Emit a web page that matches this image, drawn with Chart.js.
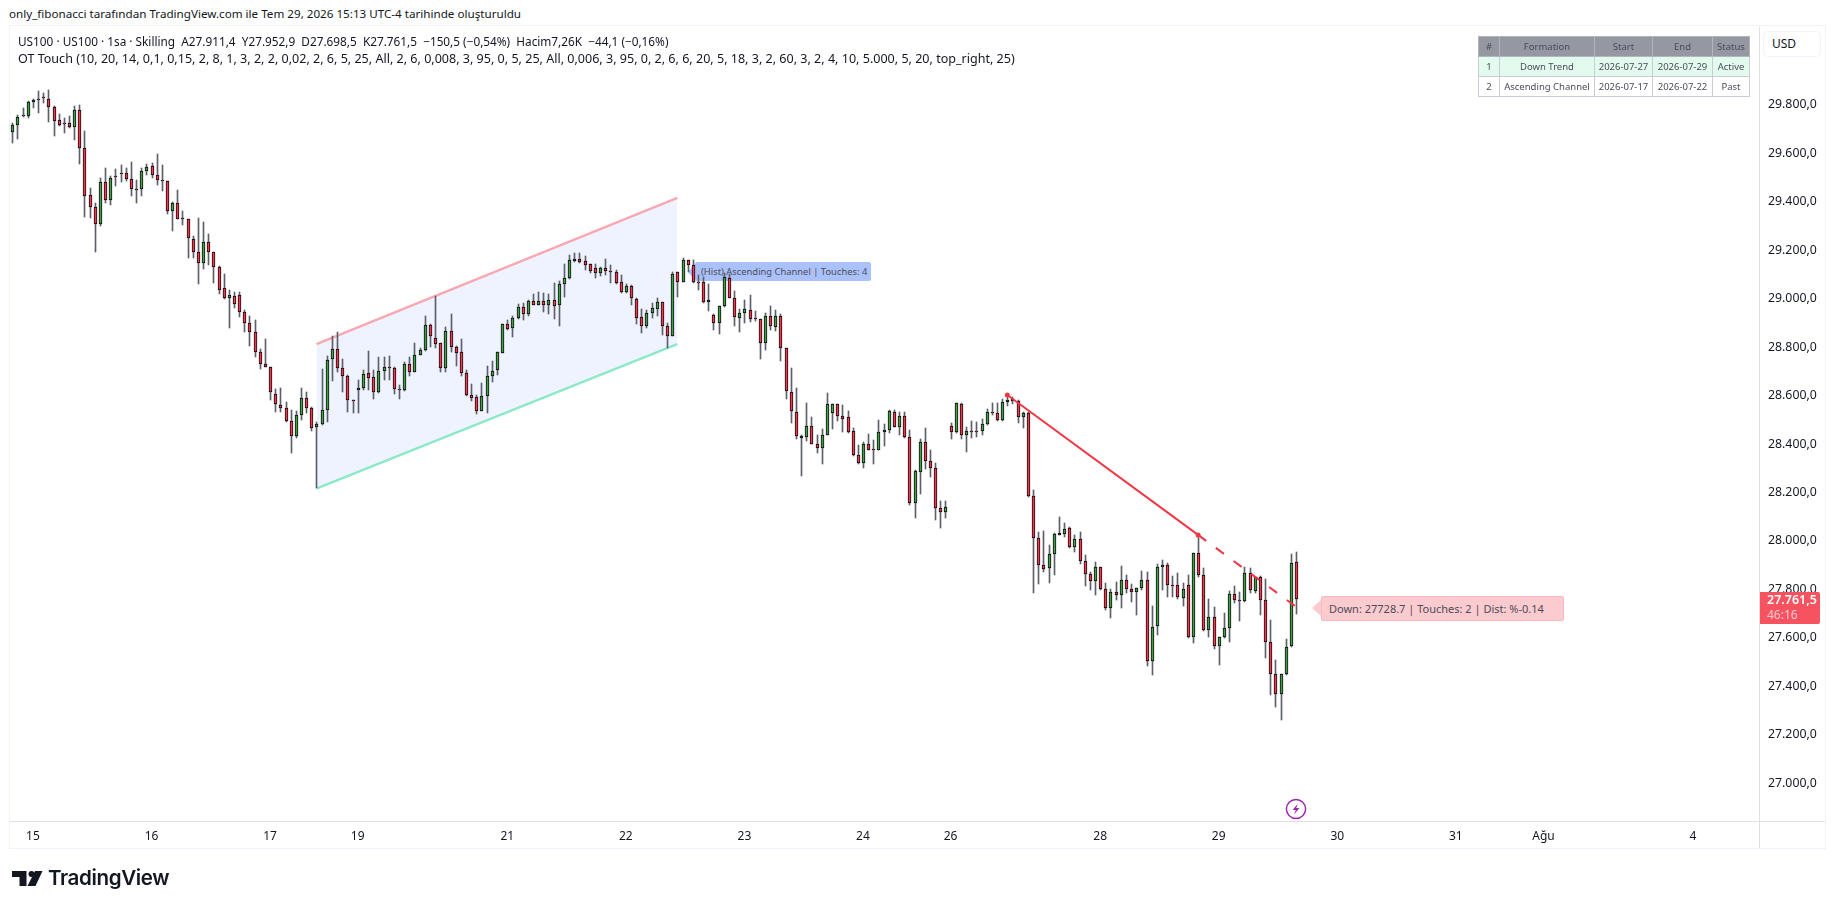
<!DOCTYPE html>
<html lang="tr">
<head>
<meta charset="utf-8">
<title>US100 1sa</title>
<script src="https://cdn.jsdelivr.net/npm/chart.js@4/dist/chart.umd.min.js"></script>
<style>
html, body { margin: 0; padding: 0; width: 1835px; height: 909px; overflow: hidden; background: #fff; font-family: 'Noto Sans', sans-serif; color: #131722; }
.abs { position: absolute; white-space: nowrap; }
#frame { left: 9px; top: 25px; width: 1815px; height: 822px; border: 1.5px solid #f0f3fa; }
#sep1 { left: 10px; top: 821px; width: 1815px; height: 1px; background: #e0e0e3; }
#sep2 { left: 1759px; top: 27px; width: 1px; height: 821px; background: #e0e0e3; }
#chart { position: absolute; left: 0; top: 0; z-index: 2; }
.over { z-index: 3; }
.tag { color: #4a4d57; box-sizing: border-box; border-radius: 2px; }
#hist { left: 695px; top: 262px; width: 176px; height: 19px; line-height: 19px; font-size: 9.4px; background: #aac1fb; padding-left: 6px; z-index: 1; }
#histArrow { left: 688px; top: 264px; width: 0; height: 0; border-top: 8px solid transparent; border-bottom: 8px solid transparent; border-right: 7px solid #aac1fb; z-index: 1; }
#down { left: 1321px; top: 596px; width: 243px; height: 25px; background: #fccbcf; border: 1px solid #fbb9bf; line-height: 23px; padding-left: 7px; font-size: 11px; z-index: 1; }
#downArrow { left: 1312px; top: 600px; width: 0; height: 0; border-top: 8px solid transparent; border-bottom: 8px solid transparent; border-right: 9px solid #fccbcf; z-index: 1; }
#price { left: 1760px; top: 592px; width: 60px; height: 32px; background: #f7525f; color: #fff; border-radius: 0 2px 2px 0; font-size: 12.5px; font-weight: 600; line-height: 15px; padding: 0 0 0 7px; box-sizing: border-box; }
#price span { color: #ffc9cf; display: block; font-weight: 400; font-size: 12px; }
#usd { left: 1763px; top: 31px; width: 58px; height: 26px; background: #fff; border: 1px solid #f0f3fa; border-radius: 5px; box-sizing: border-box; font-size: 12px; line-height: 24px; padding-left: 8px; }
table { position: absolute; left: 1478px; top: 36px; border-collapse: collapse; font-size: 9.5px; color: #4a4d57; z-index: 3; table-layout: fixed; width: 271px; }
td { border: 1px solid #c9ccd3; height: 19px; padding: 0; text-align: center; overflow: hidden; white-space: nowrap; }
tr.h td { background: #9598a1; border-color: #b2b5be; }
tr.a td { background: #e3faef; }
</style>
</head>
<body>
<div class="abs" id="frame"></div>
<div class="abs" id="sep1"></div>
<div class="abs" id="sep2"></div>

<div class="abs" style="left:9px;top:6px;font-size:11.65px;">only_fibonacci tarafından TradingView.com ile Tem 29, 2026 15:13 UTC-4 tarihinde oluşturuldu</div>
<div class="abs over" style="left:18px;top:33px;font-size:11.8px;">US100 · US100 · 1sa · Skilling &nbsp;A27.911,4 &nbsp;Y27.952,9 &nbsp;D27.698,5 &nbsp;K27.761,5 &nbsp;−150,5 (−0,54%) &nbsp;Hacim7,26K &nbsp;−44,1 (−0,16%)</div>
<div class="abs over" style="left:18px;top:50px;font-size:12.55px;">OT Touch (10, 20, 14, 0,1, 0,15, 2, 8, 1, 3, 2, 2, 0,02, 2, 6, 5, 25, All, 2, 6, 0,008, 3, 95, 0, 5, 25, All, 0,006, 3, 95, 0, 2, 6, 6, 20, 5, 18, 3, 2, 60, 3, 2, 4, 10, 5.000, 5, 20, top_right, 25)</div>

<table>
<colgroup><col style="width:21px"><col style="width:95px"><col style="width:58px"><col style="width:60px"><col style="width:37px"></colgroup>
<tr class="h"><td>#</td><td>Formation</td><td>Start</td><td>End</td><td>Status</td></tr>
<tr class="a"><td>1</td><td>Down Trend</td><td>2026-07-27</td><td>2026-07-29</td><td>Active</td></tr>
<tr><td>2</td><td>Ascending Channel</td><td>2026-07-17</td><td>2026-07-22</td><td>Past</td></tr>
</table>

<div class="abs" id="histArrow"></div>
<div class="abs tag" id="hist">(Hist) Ascending Channel | Touches: 4</div>
<div class="abs" id="downArrow"></div>
<div class="abs tag" id="down">Down: 27728.7 | Touches: 2 | Dist: %-0.14</div>

<canvas id="chart" width="1835" height="909"></canvas>

<div class="abs over" id="usd">USD</div>
<div class="abs over" id="price">27.761,5<span>46:16</span></div>

<svg class="abs over" style="left:1285px;top:798px" width="22" height="22" viewBox="0 0 22 22">
  <circle cx="11" cy="11" r="9.6" fill="#fff" stroke="#9c27b0" stroke-width="1.5"/>
  <path d="M13 5.5 L7.5 12 H10.8 L9 16.5 L14.5 10 H11.2 Z" fill="#9c27b0"/>
</svg>

<svg class="abs over" style="left:10px;top:868px" width="36" height="22" viewBox="0 0 36 22">
  <path d="M2 3 H16.5 V18 H9.5 V9 H2 Z" fill="#131722"/>
  <circle cx="21.5" cy="6" r="3" fill="#131722"/>
  <path d="M25 3 H32.5 L25.5 18 H17.5 Z" fill="#131722"/>
</svg>
<div class="abs over" style="left:48px;top:865px;font-family:Inter,sans-serif;font-weight:600;font-size:20.6px;letter-spacing:-0.4px;color:#131722;">TradingView</div>

<script>
// OHLC values of the hourly candles
var opens = [
  29685,29714,29754,29754,29809,29817,29831,29825,29792,29735,
  29724,29722,29708,29776,29619,29425,29376,29306,29479,29405,
  29505,29517,29516,29491,29451,29450,29528,29545,29508,29488,
  29483,29363,29392,29332,29330,29244,29190,29145,29235,29190,
  29132,29042,29004,29009,29013,28943,28901,28864,28778,28732,
  28716,28608,28559,28547,28493,28435,28518,28588,28547,28472,
  28481,28542,28749,28790,28712,28679,28581,28624,28629,28691,
  28675,28615,28703,28717,28712,28625,28621,28728,28698,28769,
  28786,28889,28839,28815,28712,28868,28802,28778,28691,28602,
  28592,28537,28600,28679,28707,28776,28893,28877,28918,28967,
  28937,28988,28974,28988,28974,28992,28974,29058,29083,29156,
  29165,29153,29141,29128,29104,29128,29114,29108,29070,29028,
  29050,29000,28922,28888,28939,28955,28984,28885,28846,29108,
  29070,29157,29137,29070,29070,28984,28934,28901,28970,29083,
  29004,28921,28941,28951,28919,28914,28815,28930,28881,28930,
  28794,28613,28534,28423,28427,28476,28402,28382,28439,28526,
  28565,28514,28510,28452,28353,28320,28398,28379,28377,28448,
  28456,28534,28471,28514,28427,28155,28283,28410,28328,28303,
  28138,28118,28473,28448,28565,28436,28452,28452,28452,28481,
  28532,28527,28498,28572,28576,28576,28510,28527,28184,28011,
  27900,27887,27945,28032,28030,28052,27974,28007,27916,27862,
  27834,27891,27801,27722,27788,27776,27838,27801,27788,27805,
  27838,27504,27648,27891,27900,27818,27817,27763,27817,27603,
  27949,27858,27631,27685,27565,27603,27640,27780,27757,27751,
  27867,27795,27850,27755,27582,27450,27367,27450,27565,27911.4
];
var closes = [
  29714,29750,29757,29809,29817,29825,29828,29792,29733,29717,
  29721,29708,29776,29619,29424,29376,29306,29479,29407,29499,
  29502,29515,29491,29450,29449,29528,29543,29508,29487,29486,
  29363,29392,29330,29329,29248,29190,29145,29235,29190,29132,
  29037,29004,29013,28976,28943,28901,28864,28778,28728,28716,
  28613,28563,28547,28493,28435,28518,28588,28547,28468,28481,
  28542,28745,28790,28712,28679,28580,28578,28633,28687,28673,
  28613,28703,28716,28714,28625,28622,28728,28698,28769,28786,
  28889,28844,28813,28712,28868,28802,28776,28691,28603,28591,
  28537,28600,28679,28703,28778,28893,28875,28918,28967,28937,
  28988,28974,28988,28974,28992,28970,29058,29083,29157,29165,
  29152,29137,29114,29104,29128,29114,29108,29065,29028,29050,
  29004,28921,28885,28939,28959,28984,28885,28846,29103,29070,
  29157,29137,29069,29068,28984,28996,28901,28971,29087,29004,
  28922,28939,28955,28914,28916,28815,28930,28885,28930,28794,
  28617,28538,28431,28431,28476,28402,28382,28439,28567,28565,
  28514,28505,28448,28353,28320,28398,28377,28376,28448,28456,
  28536,28472,28514,28427,28157,28287,28410,28328,28303,28138,
  28118,28142,28448,28568,28436,28452,28449,28449,28481,28531,
  28529,28498,28572,28580,28584,28510,28527,28184,28011,27900,
  27886,27945,28027,28026,28048,27974,28007,27916,27862,27834,
  27891,27801,27722,27788,27776,27838,27801,27788,27805,27838,
  27504,27644,27891,27900,27817,27816,27768,27801,27603,27949,
  27858,27631,27685,27565,27603,27640,27780,27755,27754,27867,
  27796,27850,27755,27582,27450,27367,27450,27561,27908,27761.5
];
var highs = [
  29726,29759,29784,29814,29821,29856,29846,29860,29794,29761,
  29746,29752,29794,29798,29691,29455,29394,29499,29537,29505,
  29534,29550,29538,29563,29488,29537,29553,29557,29596,29550,
  29483,29399,29447,29361,29330,29257,29332,29315,29266,29194,
  29136,29101,29037,29026,29026,28951,28930,28911,28790,28833,
  28716,28626,28630,28573,28540,28536,28630,28614,28551,28489,
  28709,28763,28844,28860,28750,28684,28581,28666,28705,28782,
  28705,28757,28757,28763,28718,28643,28739,28758,28815,28798,
  28927,28893,29010,28815,28881,28936,28804,28833,28705,28647,
  28602,28650,28721,28742,28778,28897,28911,28927,28977,28980,
  28996,29017,29027,29021,29017,29066,29072,29142,29179,29186,
  29189,29175,29142,29142,29131,29165,29138,29117,29097,29062,
  29054,29003,28955,28952,28980,29004,28987,28901,29108,29110,
  29169,29161,29158,29097,29090,29062,28936,28971,29106,29103,
  29031,28955,28993,29014,28948,28916,28939,28969,28952,28936,
  28794,28712,28629,28439,28571,28510,28437,28460,28609,28567,
  28567,28559,28536,28468,28395,28409,28441,28416,28498,28482,
  28540,28540,28533,28533,28457,28292,28420,28464,28377,28320,
  28163,28164,28485,28568,28568,28472,28495,28492,28503,28544,
  28568,28570,28586,28598,28595,28581,28533,28531,28210,28036,
  28041,27983,28032,28099,28073,28056,28025,28036,27942,27873,
  27912,27891,27825,27801,27832,27897,27858,27822,27805,27876,
  27872,27732,27904,27922,27909,27857,27869,27827,27858,27949,
  28027,27889,27761,27728,27603,27702,27794,27814,27790,27893,
  27887,27853,27856,27843,27674,27509,27450,27595,27946,27952.9
];
var lows = [
  29640,29659,29749,29746,29784,29766,29807,29729,29671,29713,
  29684,29704,29655,29556,29337,29333,29193,29300,29394,29385,
  29464,29482,29484,29424,29395,29424,29509,29498,29468,29445,
  29348,29280,29329,29304,29168,29168,29061,29121,29138,29065,
  29018,28999,28879,28960,28923,28864,28805,28757,28710,28716,
  28582,28533,28533,28492,28364,28426,28498,28526,28455,28217,
  28478,28492,28661,28698,28615,28533,28529,28529,28622,28622,
  28584,28611,28663,28663,28606,28587,28620,28681,28696,28767,
  28783,28801,28798,28695,28698,28780,28723,28680,28599,28577,
  28525,28536,28529,28657,28684,28775,28872,28842,28915,28911,
  28929,28973,28973,28944,28936,28916,28888,29007,29081,29152,
  29147,29117,29106,29086,29095,29099,29065,29060,29024,29021,
  28973,28894,28859,28877,28921,28927,28849,28797,28845,29007,
  29069,29110,29065,29035,28982,28949,28870,28855,28966,29003,
  28886,28863,28900,28904,28907,28752,28787,28872,28867,28743,
  28585,28487,28419,28269,28413,28399,28361,28318,28438,28463,
  28496,28450,28446,28351,28318,28302,28375,28318,28376,28393,
  28446,28471,28439,28426,28148,28096,28195,28298,28265,28085,
  28052,28096,28421,28444,28422,28368,28426,28430,28437,28478,
  28518,28496,28496,28558,28565,28485,28467,28183,27784,27824,
  27873,27828,27861,28025,28015,27972,27953,27904,27816,27798,
  27779,27799,27717,27684,27757,27725,27787,27750,27696,27798,
  27484,27449,27612,27798,27770,27770,27761,27732,27598,27580,
  27850,27629,27605,27553,27490,27601,27585,27745,27671,27750,
  27784,27787,27696,27519,27366,27316,27261,27448,27564,27698.5
];

// axis ticks
var priceTicks = [27000,27200,27400,27600,27800,28000,28200,28400,28600,28800,29000,29200,29400,29600,29800];
var dateTicks = [4,27,50,67,96,119,142,165,182,211,234,257,280,297,326];
var dateLabels = ['15','16','17','19','21','22','23','24','26','28','29','30','31','Ağu','4'];

// drawings on the chart: bar index and price of each end
var channelX = [59,129];
var channelTop = [28812,29415];
var channelBottom = [28216,28812];
var trendX = [193,230];
var trendY = [28602,28025];
var trendDashX = [230,249];
var trendDashY = [28025,27728.7];

function toPoints(xs, ys) {
    return xs.map(function(x, i) { return {x: x, y: ys[i]}; });
}

var wicks = opens.map(function(o, i) { return {x: i, y: [lows[i], highs[i]]}; });
var bodies = opens.map(function(o, i) { return {x: i, y: [o, closes[i]]}; });
var bodyColors = opens.map(function(o, i) { return closes[i] >= o ? '#43a047' : '#f7364f'; });

// Chart.js leaves bars on fractional pixels, which blurs the 1px outlines
var snapBars = {
    id: 'snapBars',
    afterDatasetsUpdate: function(chart) {
        [2, 3].forEach(function(d) {
            chart.getDatasetMeta(d).data.forEach(function(bar) {
                bar.x = Math.round(bar.x) + 0.5;
                bar.y = Math.round(bar.y);
                bar.base = Math.round(bar.base);
                if (bar.y === bar.base) bar.base = bar.y + 1;
            });
        });
    }
};

new Chart(document.getElementById('chart').getContext('2d'), {
    type: 'bar',
    plugins: [snapBars],
    data: {
        datasets: [
            {
                type: 'line',
                data: toPoints(channelX, channelBottom),
                borderColor: '#90efc4',
                borderWidth: 2.5,
                pointRadius: 0,
                order: 6
            },
            {
                type: 'line',
                data: toPoints(channelX, channelTop),
                borderColor: '#f9a8b2',
                backgroundColor: 'rgba(41, 98, 255, 0.08)',
                borderWidth: 2.5,
                pointRadius: 0,
                fill: 0,
                order: 5
            },
            {
                data: wicks,
                backgroundColor: '#5d606b',
                borderWidth: 0,
                barThickness: 1,
                grouped: false,
                order: 4
            },
            {
                data: bodies,
                backgroundColor: bodyColors,
                borderColor: '#0d0d0d',
                borderWidth: 1,
                borderSkipped: false,
                barThickness: 3,
                grouped: false,
                order: 3
            },
            {
                type: 'line',
                data: toPoints(trendX, trendY),
                borderColor: '#f23645',
                borderWidth: 2,
                pointRadius: 2.5,
                pointBackgroundColor: '#f23645',
                pointBorderWidth: 0,
                order: 2
            },
            {
                type: 'line',
                data: toPoints(trendDashX, trendDashY),
                borderColor: '#f23645',
                borderWidth: 2,
                borderDash: [10, 12],
                pointRadius: 0,
                order: 1
            }
        ]
    },
    options: {
        responsive: false,
        animation: false,
        events: [],
        layout: {
            padding: {left: 10, right: 10, top: 27, bottom: 61}
        },
        plugins: {
            legend: {display: false},
            tooltip: {enabled: false}
        },
        scales: {
            x: {
                type: 'linear',
                min: -0.45,
                max: 338.8,
                offset: false,
                grid: {display: false},
                border: {display: false},
                afterBuildTicks: function(scale) {
                    scale.ticks = dateTicks.map(function(v) { return {value: v}; });
                },
                afterFit: function(scale) {
                    scale.height = 27;
                },
                ticks: {
                    autoSkip: false,
                    maxRotation: 0,
                    padding: 0,
                    color: '#131722',
                    font: {family: "'Noto Sans', sans-serif", size: 12},
                    callback: function(value) {
                        return dateLabels[dateTicks.indexOf(value)];
                    }
                }
            },
            y: {
                position: 'right',
                min: 26845,
                max: 30120,
                grid: {display: false, drawTicks: false},
                border: {display: false},
                afterBuildTicks: function(scale) {
                    scale.ticks = priceTicks.map(function(v) { return {value: v}; });
                },
                afterFit: function(scale) {
                    scale.width = 66;
                },
                ticks: {
                    padding: 9,
                    color: '#131722',
                    font: {family: "'Noto Sans', sans-serif", size: 12.3},
                    callback: function(value) {
                        return value.toLocaleString('tr-TR', {minimumFractionDigits: 1});
                    }
                }
            }
        }
    }
});
</script>
</body>
</html>
